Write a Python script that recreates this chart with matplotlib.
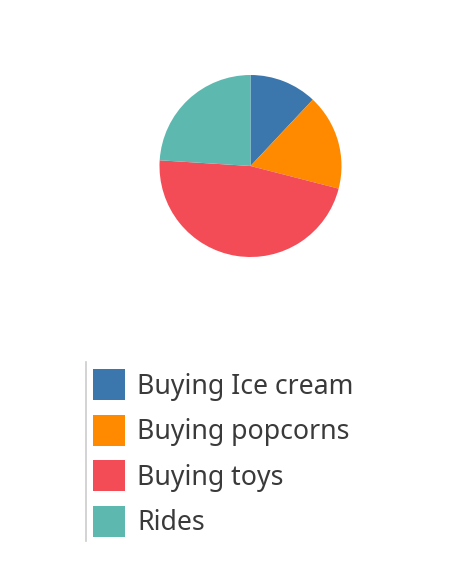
import matplotlib
matplotlib.use("Agg")
import matplotlib.pyplot as plt
from matplotlib.patches import Rectangle
from matplotlib.lines import Line2D

categories = ["Buying Ice cream", "Buying popcorns", "Buying toys", "Rides"]
values = [12, 17, 47, 24]
colors = ["#3B77AD", "#FF8A00", "#F34C57", "#5DB9B0"]

W, H = 474, 586
fig = plt.figure(figsize=(W / 100, H / 100), dpi=100)
fig.patch.set_facecolor("white")

cx, cy, r = 250.5, 166, 91
ax = fig.add_axes([(cx - r) / W, (H - cy - r) / H, 2 * r / W, 2 * r / H])
ax.pie(values, colors=colors, startangle=90, counterclock=False, radius=1,
       wedgeprops=dict(linewidth=0))
ax.set_xlim(-1, 1)
ax.set_ylim(-1, 1)
ax.set_aspect("equal")
ax.axis("off")

# legend
fig.add_artist(Line2D([85.5 / W, 85.5 / W], [1 - 362 / H, 1 - 541 / H],
                      color="#cccccc", linewidth=1.2, transform=fig.transFigure))
row_y = [384.5, 430, 475.5, 521]
for cat, col, y in zip(categories, colors, row_y):
    fig.add_artist(Rectangle((93 / W, 1 - (y + 15.5) / H), 32 / W, 31 / H,
                             facecolor=col, edgecolor="none",
                             transform=fig.transFigure))
    fig.text(137 / W, 1 - (y + 2.5) / H, cat, fontsize=19.2, color="#3a3a3a",
             family="Noto Sans", va="center", ha="left")

fig.savefig("out.png", dpi=100, facecolor="white")
